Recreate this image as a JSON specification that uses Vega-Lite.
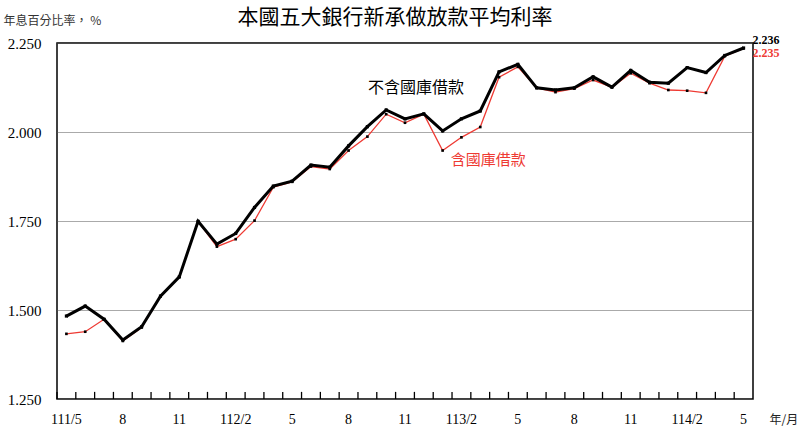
{
  "$schema": "https://vega.github.io/schema/vega-lite/v6.json",
  "width": 696,
  "height": 356,
  "autosize": {"type": "none"},
  "padding": {"left": 57, "top": 43, "right": 47, "bottom": 31},
  "background": "white",
  "title": {
    "text": "本國五大銀行新承做放款平均利率",
    "font": "Noto Sans CJK TC",
    "fontSize": 21,
    "fontWeight": "normal",
    "color": "black",
    "frame": "group",
    "offset": -14,
    "dx": -10
  },
  "datasets": {
    "rates": [
      {"month": "111/5", "black": 1.483, "red": 1.433},
      {"month": "111/6", "black": 1.511, "red": 1.439},
      {"month": "111/7", "black": 1.474, "red": 1.474},
      {"month": "111/8", "black": 1.416, "red": 1.413},
      {"month": "111/9", "black": 1.453, "red": 1.451},
      {"month": "111/10", "black": 1.539, "red": 1.539},
      {"month": "111/11", "black": 1.593, "red": 1.593},
      {"month": "111/12", "black": 1.749, "red": 1.749},
      {"month": "112/1", "black": 1.685, "red": 1.678},
      {"month": "112/2", "black": 1.715, "red": 1.699},
      {"month": "112/3", "black": 1.788, "red": 1.751},
      {"month": "112/4", "black": 1.848, "red": 1.845},
      {"month": "112/5", "black": 1.862, "red": 1.86},
      {"month": "112/6", "black": 1.907, "red": 1.903},
      {"month": "112/7", "black": 1.901, "red": 1.896},
      {"month": "112/8", "black": 1.961, "red": 1.948},
      {"month": "112/9", "black": 2.015, "red": 1.987},
      {"month": "112/10", "black": 2.062, "red": 2.05},
      {"month": "112/11", "black": 2.037, "red": 2.026},
      {"month": "112/12", "black": 2.051, "red": 2.05},
      {"month": "113/1", "black": 2.003, "red": 1.948},
      {"month": "113/2", "black": 2.037, "red": 1.985},
      {"month": "113/3", "black": 2.059, "red": 2.014},
      {"month": "113/4", "black": 2.169, "red": 2.154},
      {"month": "113/5", "black": 2.19, "red": 2.183},
      {"month": "113/6", "black": 2.124, "red": 2.124},
      {"month": "113/7", "black": 2.118, "red": 2.112},
      {"month": "113/8", "black": 2.124, "red": 2.122},
      {"month": "113/9", "black": 2.155, "red": 2.146},
      {"month": "113/10", "black": 2.126, "red": 2.126},
      {"month": "113/11", "black": 2.173, "red": 2.165},
      {"month": "113/12", "black": 2.14, "red": 2.137},
      {"month": "114/1", "black": 2.137, "red": 2.118},
      {"month": "114/2", "black": 2.181, "red": 2.116},
      {"month": "114/3", "black": 2.167, "red": 2.11},
      {"month": "114/4", "black": 2.215, "red": 2.213},
      {"month": "114/5", "black": 2.236, "red": 2.235}
    ]
  },
  "data": {"name": "rates"},
  "encoding": {
    "x": {
      "field": "month",
      "type": "ordinal",
      "sort": null,
      "scale": {"type": "band", "paddingInner": 0, "paddingOuter": 0},
      "axis": {
        "title": "年/月",
        "titleFont": "Noto Sans CJK TC",
        "titleFontSize": 12,
        "titleFontWeight": "normal",
        "titleColor": "#222",
        "titleAlign": "left",
        "titleBaseline": "middle",
        "titleAnchor": null,
        "titleX": 712,
        "titleY": 20,
        "labelAngle": 0,
        "labelFont": "Liberation Serif",
        "labelFontSize": 14,
        "labelColor": "black",
        "labelPadding": 13,
        "labelOverlap": false,
        "labelExpr": "indexof(['5','8','11','2'], split(datum.value,'/')[1]) >= 0 ? ((split(datum.value,'/')[1] == '2' || datum.value == '111/5') ? datum.value : split(datum.value,'/')[1]) : ''",
        "domain": false,
        "ticks": false,
        "grid": false
      }
    },
    "y": {
      "field": "black",
      "type": "quantitative",
      "scale": {"domain": [1.25, 2.25], "nice": false, "zero": false},
      "axis": {
        "title": "年息百分比率， %",
        "titleFont": "Noto Sans CJK TC",
        "titleFontSize": 12,
        "titleFontWeight": "normal",
        "titleColor": "#333",
        "titleAngle": 0,
        "titleAlign": "left",
        "titleBaseline": "middle",
        "titleAnchor": null,
        "titleX": -54,
        "titleY": -23,
        "values": [1.25, 1.5, 1.75, 2.0, 2.25],
        "format": ".3f",
        "labelFont": "Liberation Serif",
        "labelFontSize": 15,
        "labelColor": "black",
        "labelPadding": 16,
        "domain": false,
        "ticks": false,
        "grid": true,
        "gridColor": "#555",
        "gridDash": [1, 1],
        "gridWidth": 1
      }
    }
  },
  "layer": [
    {
      "mark": {"type": "rule", "color": "black", "strokeWidth": 1.3, "opacity": 1},
      "encoding": {
        "x": {"field": "month", "type": "ordinal", "sort": null, "bandPosition": 0},
        "y": {"datum": 1.25},
        "y2": {"datum": 1.27}
      }
    },
    {
      "mark": {"type": "line", "color": "#ee3a33", "strokeWidth": 1.3},
      "encoding": {"y": {"field": "red", "type": "quantitative"}}
    },
    {
      "mark": {"type": "square", "color": "black", "size": 7, "opacity": 1},
      "encoding": {"y": {"field": "red", "type": "quantitative"}}
    },
    {
      "mark": {"type": "line", "color": "black", "strokeWidth": 3}
    },
    {
      "mark": {"type": "square", "color": "black", "size": 10, "opacity": 1}
    },
    {
      "transform": [{"filter": "datum.month == '112/11'"}],
      "mark": {"type": "text", "text": "不含國庫借款", "font": "Noto Sans CJK TC", "fontSize": 16, "fontWeight": "normal", "color": "black", "dx": 11, "dy": -31}
    },
    {
      "transform": [{"filter": "datum.month == '113/3'"}],
      "mark": {"type": "text", "text": "含國庫借款", "font": "Noto Sans CJK TC", "fontSize": 15, "color": "#ee3a33", "dx": 8, "dy": 33},
      "encoding": {"y": {"field": "red", "type": "quantitative"}}
    },
    {
      "transform": [{"filter": "datum.month == '114/5'"}],
      "mark": {"type": "text", "align": "left", "font": "Liberation Serif", "fontSize": 12, "fontWeight": "bold", "color": "black", "dx": 9, "dy": -8},
      "encoding": {"text": {"field": "black", "type": "quantitative", "format": ".3f"}}
    },
    {
      "transform": [{"filter": "datum.month == '114/5'"}],
      "mark": {"type": "text", "align": "left", "font": "Liberation Serif", "fontSize": 12, "fontWeight": "bold", "color": "#ee3a33", "dx": 9, "dy": 5},
      "encoding": {
        "y": {"field": "red", "type": "quantitative"},
        "text": {"field": "red", "type": "quantitative", "format": ".3f"}
      }
    }
  ],
  "config": {
    "view": {"stroke": "black", "strokeWidth": 1.5}
  }
}
